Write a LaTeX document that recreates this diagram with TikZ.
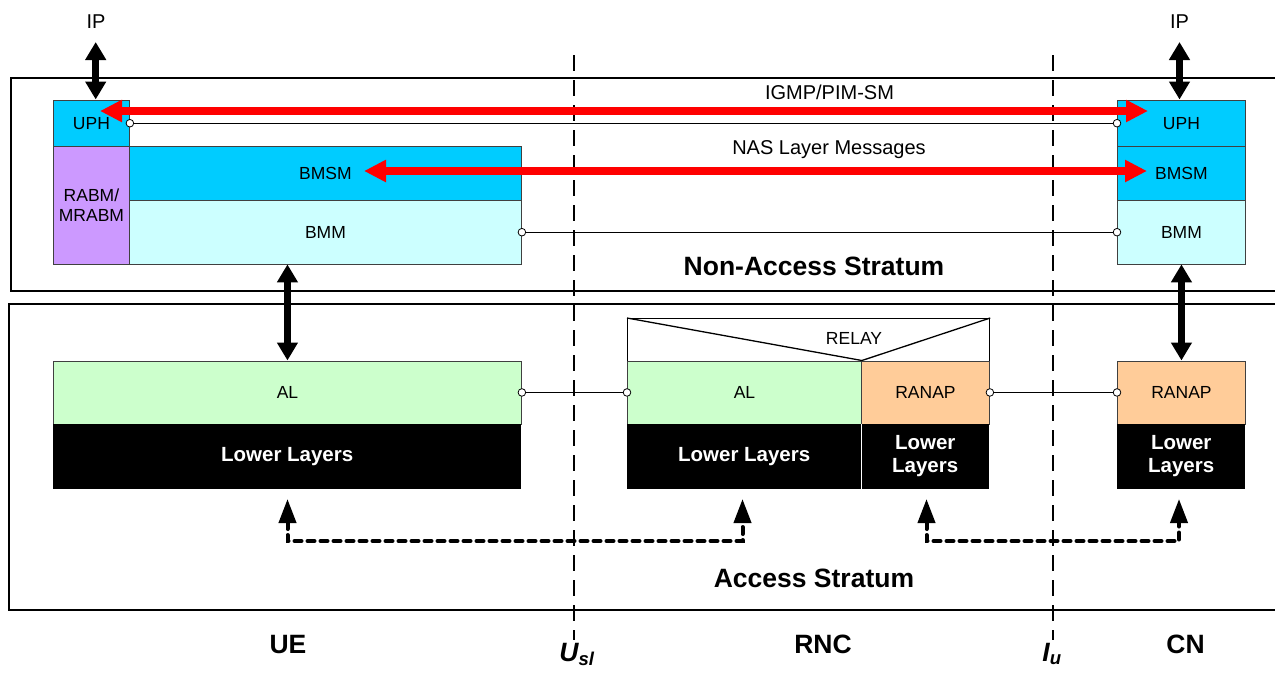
\documentclass[tikz,border=0pt]{standalone}
\usepackage{fontspec}
\setmainfont{Liberation Sans}
\usetikzlibrary{arrows.meta,calc}
\definecolor{cyanbox}{HTML}{00CCFF}
\definecolor{purplebox}{HTML}{CC99FF}
\definecolor{lcyan}{HTML}{CCFFFF}
\definecolor{lgreen}{HTML}{CCFFCC}
\definecolor{peach}{HTML}{FFCC99}
\definecolor{redarr}{HTML}{FF0000}
\begin{document}
\begin{tikzpicture}[x=1pt,y=-1pt,
 lay/.style={draw=black!75, line width=0.9pt, inner sep=0pt, anchor=north west, align=center, font=\fontsize{17.5}{20.5}\selectfont},
 blackbox/.style={fill=black, inner sep=0pt, anchor=north west, text=white, align=center, font=\bfseries\fontsize{20.5}{23.5}\selectfont},
 stratum/.style={draw=black, line width=2pt, inner sep=0pt, anchor=north west},
 bigarrow/.style={line width=6.5pt, {Triangle[length=18pt,width=20pt]}-{Triangle[length=18pt,width=20pt]}},
 redarrow/.style={draw=redarr, line width=7.5pt, {Triangle[length=22pt,width=21pt]}-{Triangle[length=22pt,width=21pt]}},
 thinlink/.style={line width=0.9pt},
 port/.style={draw=black, fill=white, line width=0.8pt},
 iface/.style={line width=2.2pt, dash pattern=on 16pt off 9pt},
 dasharrow/.style={line width=4pt, dash pattern=on 7pt off 6pt, line cap=round, {Triangle[length=24pt,width=17pt]}-{Triangle[length=24pt,width=17pt]}},
 lbl/.style={inner sep=0pt, font=\fontsize{20}{23}\selectfont},
 title/.style={inner sep=0pt, font=\bfseries\fontsize{26.5}{30}\selectfont},
]
\useasboundingbox (0,0) rectangle (1275,673);
\clip (0,0) rectangle (1275,673);

% interface lines
\draw[iface] (574,55) -- (574,640);
\draw[iface] (1053,55) -- (1053,640);

% strata
\node[stratum, minimum width=1290pt, minimum height=213pt] (nas) at (10,77) {};
\node[stratum, minimum width=1290pt, minimum height=306.5pt] (as) at (8,302.5) {};
\node[title] (nastitle) at (814,266) {Non-Access Stratum};
\node[title] (astitle) at (814,578) {Access Stratum};

% UE NAS stack
\node[lay, fill=cyanbox, minimum width=76pt, minimum height=46.5pt] (uphL) at (53,99.5) {UPH};
\node[lay, fill=purplebox, minimum width=76pt, minimum height=117.5pt] (rabm) at (53,146) {RABM/\\MRABM};
\node[lay, fill=cyanbox, minimum width=392pt, minimum height=54pt] (bmsmL) at (129,146) {BMSM};
\node[lay, fill=lcyan, minimum width=392pt, minimum height=63.5pt] (bmmL) at (129,200) {BMM};

% CN NAS stack
\node[lay, fill=cyanbox, minimum width=128pt, minimum height=46.5pt] (uphR) at (1117,99.5) {UPH};
\node[lay, fill=cyanbox, minimum width=128pt, minimum height=54pt] (bmsmR) at (1117,146) {BMSM};
\node[lay, fill=lcyan, minimum width=128pt, minimum height=63.5pt] (bmmR) at (1117,200) {BMM};

% IP labels
\node[lbl] (ipL) at (96,22) {IP};
\node[lbl] (ipR) at (1179.5,22) {IP};
\coordinate (ipLtop) at (95.7,42);
\coordinate (ipRtop) at (1179.5,42);
\draw[bigarrow] (ipLtop) -- (ipLtop |- uphL.north);
\draw[bigarrow] (ipRtop) -- (ipRtop |- uphR.north);

% UE AS stack
\node[lay, fill=lgreen, minimum width=468pt, minimum height=63pt] (alUE) at (53,360.5) {AL};
\node[blackbox, minimum width=468pt, minimum height=65pt] (llUE) at (53,423.5) {Lower Layers};

% RNC stack
\node[lay, fill=white, minimum width=362pt, minimum height=42.5pt, line width=1.2pt, draw=black] (relay) at (627,318) {};
\node[lay, fill=lgreen, minimum width=234pt, minimum height=63pt] (alRNC) at (627,360.5) {AL};
\node[lay, fill=peach, minimum width=128pt, minimum height=63pt] (ranapRNC) at (861,360.5) {RANAP};
\node[blackbox, minimum width=234pt, minimum height=65pt] (llRNC) at (627,423.5) {Lower Layers};
\node[blackbox, minimum width=128pt, minimum height=65pt] (llRNC2) at (861,423.5) {Lower\\Layers};
\draw[white, line width=1pt] (llRNC.north east) -- (llRNC.south east);
\draw[line width=1.3pt] (relay.north west) -- (alRNC.north east) -- (relay.north east);
\node[inner sep=0pt, font=\fontsize{17.5}{20.5}\selectfont] (relaytxt) at (854,338) {RELAY};

% CN AS stack
\node[lay, fill=peach, minimum width=128pt, minimum height=63pt] (ranapCN) at (1117,360.5) {RANAP};
\node[blackbox, minimum width=128pt, minimum height=65pt] (llCN) at (1117,423.5) {Lower\\Layers};

% peer links
\draw[thinlink] (uphL.east) -- (uphR.west);
\draw[thinlink] (bmmL.east) -- (bmmR.west);
\draw[thinlink] (alUE.east) -- (alRNC.west);
\draw[thinlink] (ranapRNC.east) -- (ranapCN.west);
\foreach \p in {uphL.east, uphR.west, bmmL.east, bmmR.west, alUE.east, alRNC.west, ranapRNC.east, ranapCN.west}
  \draw[port] (\p) circle (3.8pt);

% NAS <-> AS arrows
\draw[bigarrow] (alUE.north |- bmmL.south) -- (alUE.north);
\draw[bigarrow] (bmmR.south) -- (ranapCN.north);

% red peer arrows
\node[lbl] (igmp) at (829.5,92.5) {IGMP/PIM-SM};
\node[lbl] (naslm) at (829,150) {NAS Layer Messages};
\coordinate (r1a) at (100,111);
\coordinate (r1b) at (1148,111);
\coordinate (r2a) at (364,171);
\coordinate (r2b) at (1147,171);
\draw[redarrow] (r1a) -- (r1b);
\draw[redarrow] (r2a) -- (r2b);

% lower layer dashed arrows
\coordinate (d1a) at (287.5,499);
\coordinate (d1b) at (742.5,499);
\coordinate (d2a) at (926.5,499);
\coordinate (d2b) at (1179,499);
\draw[dasharrow] (d1a) -- ++(0,42) -| (d1b);
\draw[dasharrow] (d2a) -- ++(0,42) -| (d2b);

% bottom labels
\node[title, anchor=base] (ue) at (288,653) {UE};
\node[title, anchor=base] (rnc) at (823,653) {RNC};
\node[title, anchor=base] (cn) at (1185.5,653) {CN};
\node[title, anchor=base] (usl) at (577,661) {\itshape U\textsubscript{sl}};
\node[title, anchor=base] (iu) at (1052,661) {\itshape I\textsubscript{u}};
\end{tikzpicture}
\end{document}
